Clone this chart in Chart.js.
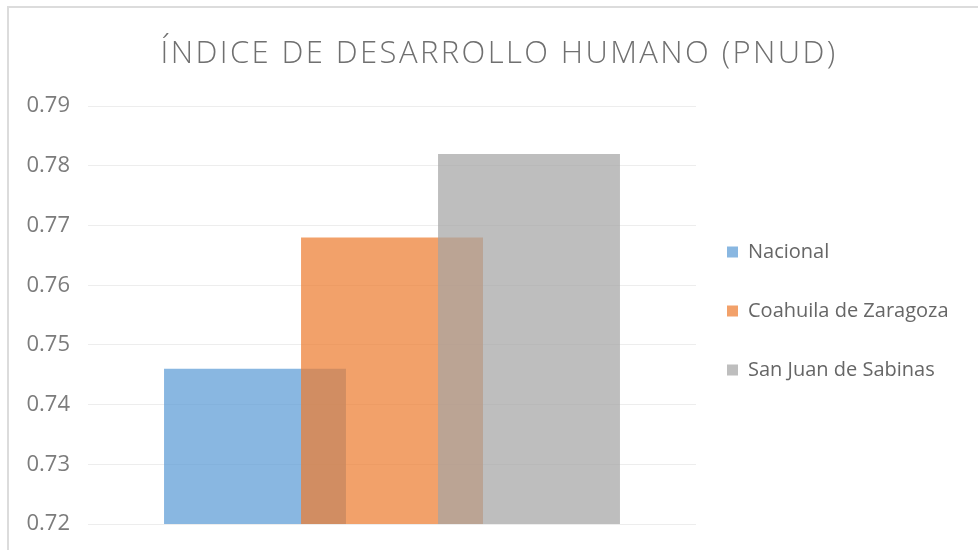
<!DOCTYPE html>
<html>
<head>
<meta charset="utf-8">
<script src="https://cdn.jsdelivr.net/npm/chart.js@4.4.1/dist/chart.umd.min.js"></script>
<style>
  html, body { margin: 0; padding: 0; background: #ffffff; overflow: hidden; }
  #frame { position: absolute; left: 7px; top: 6px; width: 980px; height: 550px;
           border-left: 2px solid #dcdcdc; border-top: 2px solid #dcdcdc; }
  #wrap { position: absolute; left: 0; top: 0; width: 978px; height: 550px; }
</style>
</head>
<body>
<div id="frame"></div>
<div id="wrap"><canvas id="chart"></canvas></div>
<script>
// ---- Data ----
const titleText = 'ÍNDICE DE DESARROLLO HUMANO (PNUD)';
const categories = [''];
const seriesNames = ['Nacional', 'Coahuila de Zaragoza', 'San Juan de Sabinas'];
const nacionalValues = [0.746];
const coahuilaValues = [0.768];
const sanJuanValues = [0.782];
const yTickValues = [0.72, 0.73, 0.74, 0.75, 0.76, 0.77, 0.78, 0.79];
const yTickLabels = ['0.72', '0.73', '0.74', '0.75', '0.76', '0.77', '0.78', '0.79'];

// ---- Styles ----
const seriesColors = ['rgba(91,155,213,0.72)', 'rgba(237,125,49,0.72)', 'rgba(165,165,165,0.72)'];
const LEGEND_WIDTH = 282;
const Y_AXIS_WIDTH = 88;
const TITLE_LETTER_SPACING = '2.4px';
const TITLE_SHIFT_X = 10;

// draw datasets in index order so later series sit on top (as in the reference)
const drawOrderPlugin = {
  id: 'drawOrder',
  beforeDatasetsDraw(chart) {
    const ctx = chart.ctx;
    const a = chart.chartArea;
    ctx.save();
    ctx.beginPath();
    ctx.rect(a.left, a.top, a.right - a.left, a.bottom - a.top);
    ctx.clip();
    const metas = chart.getSortedVisibleDatasetMetas().slice().sort((m1, m2) => m1.index - m2.index);
    metas.forEach(m => m.controller.draw());
    ctx.restore();
    return false;
  }
};

// fixed legend column width + spaced title lettering
const blockTweaksPlugin = {
  id: 'blockTweaks',
  beforeUpdate(chart) {
    const lg = chart.legend;
    if (lg && !lg._fixedWidth) {
      const orig = lg.fit.bind(lg);
      lg.fit = function () { orig(); this.width = LEGEND_WIDTH; };
      lg._fixedWidth = true;
    }
    const tb = chart.titleBlock;
    if (tb && !tb._spaced) {
      const origDraw = tb.draw.bind(tb);
      tb.draw = function () {
        const ctx = this.ctx;
        ctx.save();
        ctx.letterSpacing = TITLE_LETTER_SPACING;
        ctx.translate(TITLE_SHIFT_X, 0);
        origDraw();
        ctx.restore();
      };
      tb._spaced = true;
    }
  }
};

const allSeries = [nacionalValues, coahuilaValues, sanJuanValues];

new Chart(document.getElementById('chart'), {
  type: 'bar',
  data: {
    labels: categories,
    datasets: allSeries.map((vals, i) => ({
      label: seriesNames[i],
      data: vals,
      backgroundColor: seriesColors[i],
      borderWidth: 0,
      categoryPercentage: 0.676,
      barPercentage: 1.328
    }))
  },
  options: {
    responsive: true,
    maintainAspectRatio: false,
    animation: false,
    layout: { padding: { left: 0, right: 0, top: 0, bottom: 26 } },
    plugins: {
      title: {
        display: true,
        text: titleText,
        color: '#707070',
        font: { family: '"Open Sans", sans-serif', size: 31, weight: '300', lineHeight: 1.2 },
        padding: { top: 36, bottom: 33 }
      },
      legend: {
        position: 'right',
        align: 'center',
        fullSize: false,
        labels: {
          boxWidth: 11,
          boxHeight: 11,
          padding: 31,
          color: '#666666',
          font: { family: '"Open Sans", sans-serif', size: 20, lineHeight: 28 / 20 },
          generateLabels(chart) {
            const items = Chart.defaults.plugins.legend.labels.generateLabels(chart);
            items.sort((a, b) => a.datasetIndex - b.datasetIndex);
            return items.map(it => Object.assign(it, { text: [it.text], lineWidth: 0 }));
          }
        }
      },
      tooltip: { enabled: false }
    },
    scales: {
      x: { display: false },
      y: {
        min: 0.72,
        max: 0.79,
        afterBuildTicks(scale) { scale.ticks = yTickValues.map(v => ({ value: v })); },
        afterFit(scale) {
          scale.width = Y_AXIS_WIDTH;
          scale.paddingTop = 14;
          scale.paddingBottom = 14;
        },
        ticks: {
          padding: 18,
          color: '#7c7c7c',
          font: { family: '"Open Sans", sans-serif', size: 22 },
          callback(value) {
            const idx = yTickValues.findIndex(v => Math.abs(v - value) < 1e-9);
            return idx >= 0 ? yTickLabels[idx] : '';
          }
        },
        grid: { color: '#ededed', lineWidth: 1, drawTicks: false },
        border: { display: false }
      }
    }
  },
  plugins: [drawOrderPlugin, blockTweaksPlugin]
});
</script>
</body>
</html>
